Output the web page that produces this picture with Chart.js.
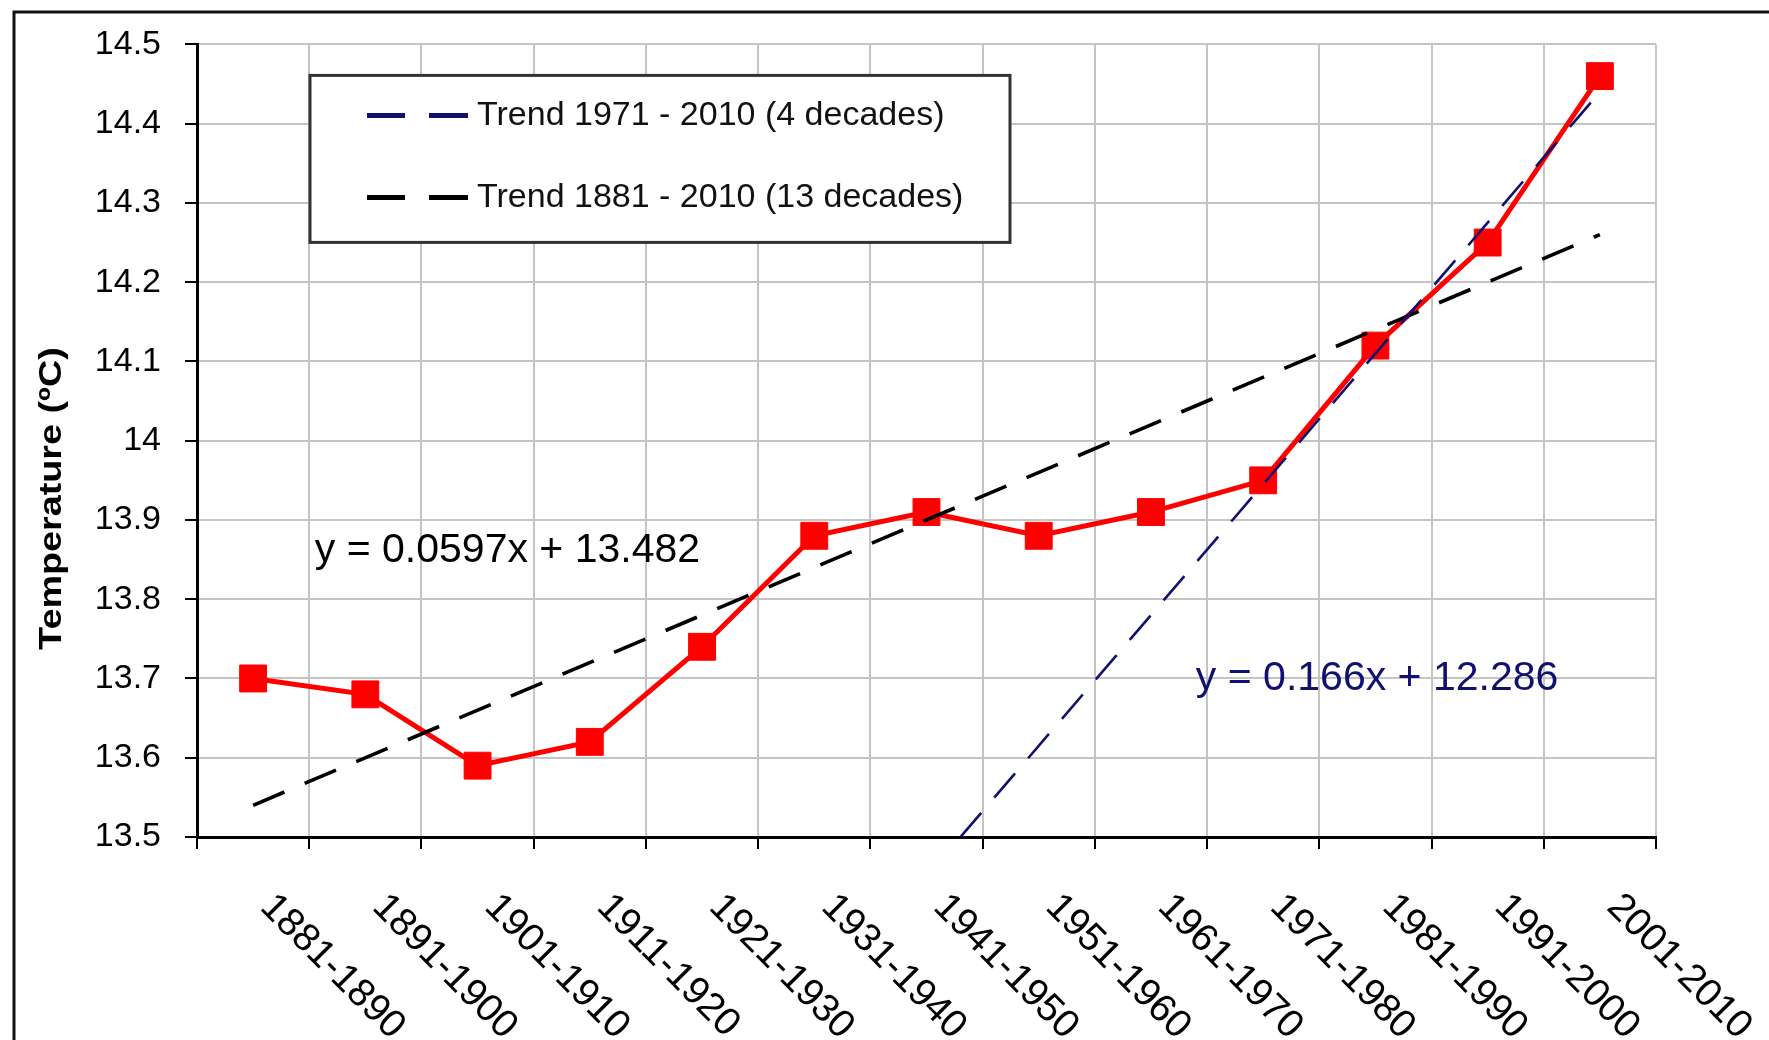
<!DOCTYPE html>
<html>
<head>
<meta charset="utf-8">
<script src="https://cdn.jsdelivr.net/npm/chart.js@4.4.1/dist/chart.umd.min.js"></script>
<style>
  body { margin: 0; background: #fff; }
  canvas { display: block; }
</style>
</head>
<body>
<canvas id="chart" width="1769" height="1040"></canvas>
<script>
// decades on the x axis
const periods = ['1881-1890', '1891-1900', '1901-1910', '1911-1920', '1921-1930', '1931-1940',
  '1941-1950', '1951-1960', '1961-1970', '1971-1980', '1981-1990', '1991-2000', '2001-2010'];
// decade mean temperature (°C)
const meanTemp = [13.70, 13.68, 13.59, 13.62, 13.74, 13.88, 13.91, 13.88, 13.91, 13.95, 14.12, 14.25, 14.46];
// trend line end points, the rest left empty
const trendLong = [13.54, null, null, null, null, null, null, null, null, null, null, null, 14.26];
const trendRecent = [null, null, null, null, null, null, 13.45, null, null, null, null, null, 14.44];
const legendLabels = ['Trend 1971 - 2010 (4 decades)', 'Trend 1881 - 2010 (13 decades)'];
const equations = ['y = 0.0597x + 13.482', 'y = 0.166x + 12.286'];
const yMin = 13.5, yMax = 14.5, yStep = 0.1;

const FONT = "'Liberation Sans', Arial, sans-serif";
const NAVY = '#10106e';

// extra drawing: frame, rotated decade labels, axis title, legend box, equations
const extras = {
  id: 'extras',
  afterDraw(chart) {
    const ctx = chart.ctx;
    const area = chart.chartArea;
    const x = chart.scales.x;
    const y = chart.scales.y;
    ctx.save();

    // outer frame
    ctx.strokeStyle = '#111';
    ctx.lineWidth = 3;
    ctx.strokeRect(14, 12, chart.width + 20, chart.height + 20);

    // decade labels, rotated clockwise
    ctx.fillStyle = '#000';
    ctx.font = '39px ' + FONT;
    ctx.textAlign = 'left';
    ctx.textBaseline = 'top';
    periods.forEach((p, i) => {
      ctx.save();
      ctx.translate(x.getPixelForValue(i) + 27, area.bottom + 50);
      ctx.rotate(Math.PI / 4);
      ctx.fillText(p, 0, 0);
      ctx.restore();
    });

    // y axis title
    ctx.save();
    ctx.translate(52, area.top + (area.bottom - area.top) * 0.573);
    ctx.rotate(-Math.PI / 2);
    ctx.scale(1.18, 1);
    ctx.font = 'bold 32px ' + FONT;
    ctx.textAlign = 'center';
    ctx.textBaseline = 'middle';
    ctx.fillText('Temperature (ºC)', 0, 0);
    ctx.restore();

    // legend box
    const bx = area.left + 113, by = area.top + 31, bw = 700, bh = 167;
    ctx.fillStyle = '#fff';
    ctx.fillRect(bx, by, bw, bh);
    ctx.strokeStyle = '#333';
    ctx.lineWidth = 3;
    ctx.strokeRect(bx, by, bw, bh);
    const legendSets = [chart.data.datasets[0], chart.data.datasets[1]];
    legendSets.forEach((ds, i) => {
      const ly = by + 40 + i * 82;
      ctx.strokeStyle = ds.borderColor;
      ctx.lineWidth = 5;
      ctx.beginPath();
      ctx.moveTo(bx + 57, ly); ctx.lineTo(bx + 95, ly);
      ctx.moveTo(bx + 119, ly); ctx.lineTo(bx + 158, ly);
      ctx.stroke();
      ctx.fillStyle = '#111';
      ctx.font = '34px ' + FONT;
      ctx.textAlign = 'left';
      ctx.textBaseline = 'middle';
      ctx.fillText(legendLabels[i], bx + 167, ly);
    });

    // trend equations
    ctx.font = '41px ' + FONT;
    ctx.textAlign = 'left';
    ctx.textBaseline = 'middle';
    ctx.fillStyle = '#000';
    ctx.fillText(equations[0], x.getPixelForValue(0.55), y.getPixelForValue(13.861));
    ctx.fillStyle = NAVY;
    ctx.fillText(equations[1], x.getPixelForValue(8.4), y.getPixelForValue(13.70));

    ctx.restore();
  }
};

const ctx = document.getElementById('chart').getContext('2d');
new Chart(ctx, {
  type: 'line',
  data: {
    labels: periods,
    datasets: [
      {
        label: legendLabels[0],
        data: trendRecent,
        borderColor: NAVY,
        borderWidth: 2.6,
        borderDash: [32, 20],
        pointRadius: 0,
        spanGaps: true,
        clip: 0,
        order: 0,
      },
      {
        label: legendLabels[1],
        data: trendLong,
        borderColor: '#000',
        borderWidth: 3.6,
        borderDash: [34, 22],
        pointRadius: 0,
        spanGaps: true,
        clip: 0,
        order: 0,
      },
      {
        label: 'Temperature',
        data: meanTemp,
        borderColor: '#ff0000',
        backgroundColor: '#ff0000',
        borderWidth: 5,
        tension: 0,
        pointStyle: 'rect',
        pointRadius: 19,
        pointBorderWidth: 1,
        order: 1,
      },
    ],
  },
  options: {
    responsive: false,
    devicePixelRatio: 1,
    animation: false,
    layout: { padding: { top: 43, right: 113, bottom: 0, left: 0 } },
    plugins: {
      legend: { display: false },
      tooltip: { enabled: false },
    },
    scales: {
      x: {
        offset: true,
        grid: { offset: true, color: '#c4c4c4', lineWidth: 2, tickLength: 12, tickColor: '#000' },
        border: { color: '#000', width: 3 },
        ticks: { color: 'rgba(0,0,0,0)', font: { size: 1 }, autoSkip: false, maxRotation: 0, minRotation: 0 },
        afterFit(scale) { scale.height = 203; },
      },
      y: {
        min: yMin,
        max: yMax,
        grid: { color: '#c4c4c4', lineWidth: 2, tickLength: 12, tickColor: '#000' },
        border: { color: '#000', width: 3 },
        ticks: {
          stepSize: yStep,
          color: '#000',
          padding: 24,
          font: { family: FONT, size: 34 },
          callback: (v) => String(parseFloat(v.toFixed(1))),
        },
        afterFit(scale) { scale.width = 197; },
      },
    },
  },
  plugins: [extras],
});
</script>
</body>
</html>
